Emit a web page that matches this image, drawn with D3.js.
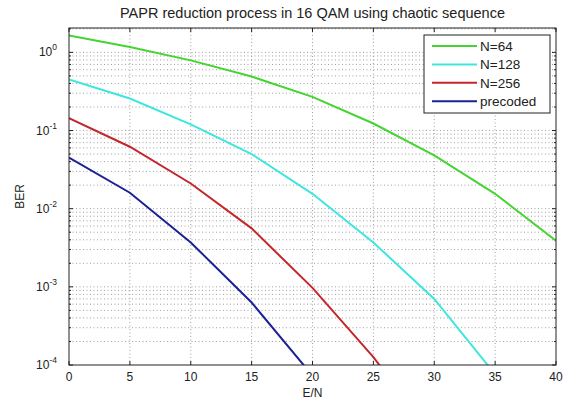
<!DOCTYPE html>
<html>
<head>
<meta charset="utf-8">
<script src="https://cdn.jsdelivr.net/npm/d3@7"></script>
<style>
  body { margin: 0; background: #fff; }
  svg text { font-family: "Liberation Sans", Arial, sans-serif; fill: #222; }
</style>
</head>
<body>
<div id="chart"></div>
<script>
// data
const snr = [0, 5, 10, 15, 20, 25, 30, 35, 40];
const berN64 = [1.65, 1.17, 0.79, 0.49, 0.27, 0.123, 0.048, 0.0155, 0.0039];
const berN128 = [0.45, 0.257, 0.12, 0.05, 0.0155, 0.0037, 0.0007, 0.000076];
const berN256 = [0.144, 0.062, 0.021, 0.0056, 0.00097, 0.000126, 0.000012];
const berPrecoded = [0.045, 0.016, 0.0037, 0.00063, 0.000073];
const seriesNames = ["N=64", "N=128", "N=256", "precoded"];
const seriesColors = ["#45d431", "#3ee6e0", "#c4262b", "#1c1f96"];
const xTicks = [0, 5, 10, 15, 20, 25, 30, 35, 40];
const yDecades = [-4, -3, -2, -1, 0];

const series = [berN64, berN128, berN256, berPrecoded].map((vals, i) => ({
  name: seriesNames[i],
  color: seriesColors[i],
  points: vals.map((v, j) => ({ x: snr[j], y: v }))
}));

const W = 568, H = 400;
const margin = { top: 28, right: 12, bottom: 35, left: 69 };
const width = W - margin.left - margin.right;
const height = H - margin.top - margin.bottom;

const svg = d3.select("#chart").append("svg")
  .attr("width", W).attr("height", H);

const g = svg.append("g")
  .attr("transform", `translate(${margin.left},${margin.top})`);

const x = d3.scaleLinear().domain([0, 40]).range([0, width]);
const y = d3.scaleLog().domain([1e-4, 2.05]).range([height, 0]);

g.append("rect").attr("width", width).attr("height", height).attr("fill", "#fff");

// minor log grid 2..9 per decade
const minor = [];
yDecades.forEach(d => {
  for (let k = 2; k <= 9; k++) {
    const v = k * Math.pow(10, d);
    if (v <= 2) minor.push(v);
  }
});

const grid = g.append("g").attr("stroke", "#888").attr("stroke-width", 0.8)
  .attr("stroke-dasharray", "1,2.5");
grid.selectAll(".hg").data(minor.concat(yDecades.slice(1).map(d => Math.pow(10, d))))
  .enter().append("line")
  .attr("x1", 0).attr("x2", width)
  .attr("y1", d => y(d)).attr("y2", d => y(d));
grid.selectAll(".vg").data(xTicks.slice(1, -1))
  .enter().append("line")
  .attr("y1", 0).attr("y2", height)
  .attr("x1", d => x(d)).attr("x2", d => x(d));

// tick marks, inside, on all four sides
const ticks = g.append("g").attr("stroke", "#222").attr("stroke-width", 1);
xTicks.forEach(t => {
  ticks.append("line").attr("x1", x(t)).attr("x2", x(t)).attr("y1", height).attr("y2", height - 4);
  ticks.append("line").attr("x1", x(t)).attr("x2", x(t)).attr("y1", 0).attr("y2", 4);
});
yDecades.forEach(d => {
  const v = Math.pow(10, d);
  ticks.append("line").attr("x1", 0).attr("x2", 4).attr("y1", y(v)).attr("y2", y(v));
  ticks.append("line").attr("x1", width).attr("x2", width - 4).attr("y1", y(v)).attr("y2", y(v));
});
minor.forEach(v => {
  ticks.append("line").attr("x1", 0).attr("x2", 2).attr("y1", y(v)).attr("y2", y(v));
  ticks.append("line").attr("x1", width).attr("x2", width - 2).attr("y1", y(v)).attr("y2", y(v));
});

// x tick labels
g.selectAll(".xl").data(xTicks).enter().append("text")
  .attr("x", d => x(d)).attr("y", height + 16)
  .attr("text-anchor", "middle").attr("font-size", "12px")
  .text(d => d);

// y tick labels 10^k
const yl = g.selectAll(".yl").data(yDecades).enter().append("text")
  .attr("x", -12).attr("y", d => y(Math.pow(10, d)) + 4)
  .attr("text-anchor", "end").attr("font-size", "12px");
yl.append("tspan").text("10");
yl.append("tspan").attr("dy", -6).attr("font-size", "8.5px").text(d => d);

// curves
g.append("clipPath").attr("id", "clip").append("rect")
  .attr("width", width).attr("height", height);

const line = d3.line().x(d => x(d.x)).y(d => y(d.y));

g.append("g").attr("clip-path", "url(#clip)")
  .selectAll("path").data(series).enter().append("path")
  .attr("fill", "none")
  .attr("stroke", d => d.color)
  .attr("stroke-width", 2)
  .attr("d", d => line(d.points));

// frame
g.append("rect").attr("width", width).attr("height", height)
  .attr("fill", "none").attr("stroke", "#222").attr("stroke-width", 1);

// legend
const lg = g.append("g").attr("transform", `translate(${424 - margin.left},${35 - margin.top})`);
lg.append("rect").attr("width", 126).attr("height", 78)
  .attr("fill", "#fff").attr("stroke", "#222").attr("stroke-width", 1);
series.forEach((s, i) => {
  const yy = 11 + i * 18.4;
  lg.append("line").attr("x1", 8).attr("x2", 53).attr("y1", yy).attr("y2", yy)
    .attr("stroke", s.color).attr("stroke-width", 2);
  lg.append("text").attr("x", 56).attr("y", yy + 5).attr("font-size", "13.5px").text(s.name);
});

// titles
svg.append("text").attr("x", margin.left + width / 2).attr("y", 18)
  .attr("text-anchor", "middle").attr("font-size", "14.5px")
  .text("PAPR reduction process in 16 QAM using chaotic sequence");
svg.append("text").attr("x", margin.left + width / 2).attr("y", 397)
  .attr("text-anchor", "middle").attr("font-size", "12px").text("E/N");
svg.append("text").attr("transform", `translate(24,${margin.top + height / 2}) rotate(-90)`)
  .attr("text-anchor", "middle").attr("font-size", "12px").text("BER");
</script>
</body>
</html>
